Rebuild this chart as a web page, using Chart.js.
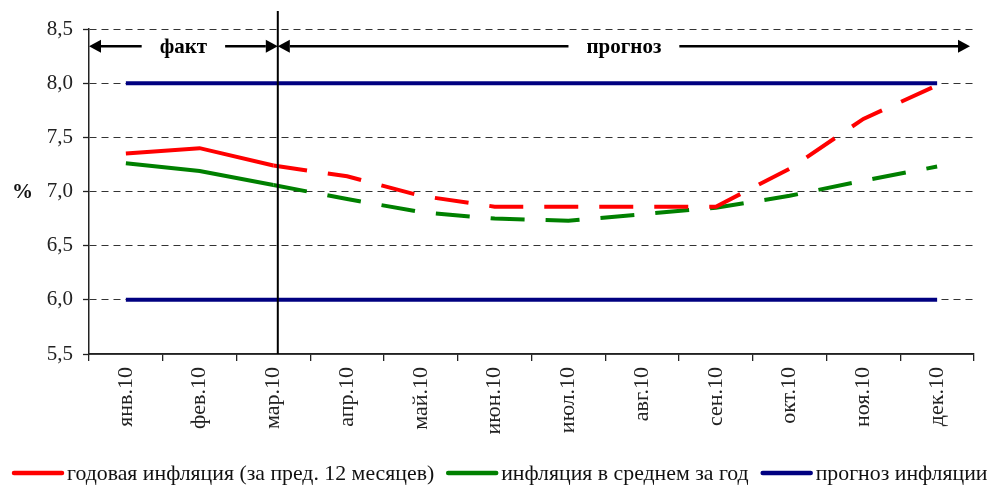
<!DOCTYPE html>
<html>
<head>
<meta charset="utf-8">
<script src="https://cdn.jsdelivr.net/npm/chart.js@4"></script>
<style>
  html, body { margin: 0; padding: 0; background: #fff; }
  canvas { display: block; }
</style>
</head>
<body>
<canvas id="chart" width="992" height="485"></canvas>
<script>
// Months of 2010
const months = ['янв.10', 'фев.10', 'мар.10', 'апр.10', 'май.10', 'июн.10',
                'июл.10', 'авг.10', 'сен.10', 'окт.10', 'ноя.10', 'дек.10'];

// Annual inflation (previous 12 months), %
const annualInflation  = [7.35, 7.40, 7.24, 7.14, 6.96, 6.86, 6.86, 6.86, 6.86, 7.21, 7.67, 7.98];
// Average inflation for the year, %
const averageInflation = [7.26, 7.19, 7.06, 6.93, 6.81, 6.75, 6.73, 6.79, 6.85, 6.96, 7.10, 7.23];
// Inflation forecast corridor, %
const forecastUpper = [8.0, 8.0, 8.0, 8.0, 8.0, 8.0, 8.0, 8.0, 8.0, 8.0, 8.0, 8.0];
const forecastLower = [6.0, 6.0, 6.0, 6.0, 6.0, 6.0, 6.0, 6.0, 6.0, 6.0, 6.0, 6.0];

const yTicks = [5.5, 6.0, 6.5, 7.0, 7.5, 8.0, 8.5];

const seriesLabels = ['годовая инфляция (за пред. 12 месяцев)', 'инфляция в среднем за год', 'прогноз инфляции'];
const spanLabels = ['факт', 'прогноз'];

const lastFactIndex = 2;     // March is the last actual month
const splitIndex = 2.06;     // divider between actual and forecast
const arrowLevel = 8.34;     // height of the fact / forecast arrows

const FONT = '"Liberation Serif", "Times New Roman", serif';
const RED = '#ff0000', GREEN = '#008000', NAVY = '#000080';
const DASH = [34, 21];

const forecastDash = ctx => (ctx.p0DataIndex >= lastFactIndex ? DASH : undefined);

function drawSpan(ctx, x0, x1, yy, label) {
  ctx.font = 'bold 21px ' + FONT;
  const w = ctx.measureText(label).width;
  const mid = (x0 + x1) / 2;
  const gap = 18, head = 12, hh = 6.5;
  ctx.strokeStyle = '#000';
  ctx.fillStyle = '#000';
  ctx.lineWidth = 2.5;
  ctx.beginPath();
  ctx.moveTo(x0 + head, yy); ctx.lineTo(mid - w / 2 - gap, yy);
  ctx.moveTo(mid + w / 2 + gap, yy); ctx.lineTo(x1 - head, yy);
  ctx.stroke();
  ctx.beginPath();
  ctx.moveTo(x0, yy); ctx.lineTo(x0 + head, yy - hh); ctx.lineTo(x0 + head, yy + hh);
  ctx.closePath(); ctx.fill();
  ctx.beginPath();
  ctx.moveTo(x1, yy); ctx.lineTo(x1 - head, yy - hh); ctx.lineTo(x1 - head, yy + hh);
  ctx.closePath(); ctx.fill();
  ctx.textAlign = 'center';
  ctx.textBaseline = 'middle';
  ctx.fillText(label, mid, yy + 1);
}

const overlay = {
  id: 'overlay',
  afterDatasetsDraw(chart) {
    const { ctx, chartArea: a, scales: { x, y } } = chart;
    const sx = x.getPixelForValue(splitIndex);
    ctx.save();
    // solid category axis line
    ctx.strokeStyle = '#222';
    ctx.lineWidth = 1.5;
    ctx.beginPath();
    ctx.moveTo(a.left, a.bottom);
    ctx.lineTo(a.right, a.bottom);
    ctx.stroke();

    // divider between fact and forecast
    ctx.strokeStyle = '#000';
    ctx.lineWidth = 2;
    ctx.beginPath();
    ctx.moveTo(sx, 11);
    ctx.lineTo(sx, a.bottom);
    ctx.stroke();

    const ay = y.getPixelForValue(arrowLevel);
    drawSpan(ctx, a.left, sx, ay, spanLabels[0]);
    drawSpan(ctx, sx, a.right - 4, ay, spanLabels[1]);

    // unit label
    ctx.font = 'bold 21px ' + FONT;
    ctx.fillStyle = '#111';
    ctx.textAlign = 'left';
    ctx.textBaseline = 'middle';
    ctx.fillText('%', 12, y.getPixelForValue(7.0) + 1);
    ctx.restore();
  },
  afterDraw(chart) {
    const { ctx } = chart;
    const items = [0, 1, 2].map(i => chart.data.datasets[i]);
    ctx.save();
    ctx.font = '21.8px ' + FONT;
    ctx.textAlign = 'left';
    ctx.textBaseline = 'middle';
    let xx = 12;
    const yy = 473;
    items.forEach(ds => {
      ctx.strokeStyle = ds.borderColor;
      ctx.lineWidth = 4.5;
      ctx.lineCap = 'round';
      ctx.beginPath();
      ctx.moveTo(xx + 2, yy);
      ctx.lineTo(xx + 50, yy);
      ctx.stroke();
      xx += 55;
      ctx.fillStyle = '#111';
      ctx.fillText(ds.label, xx, yy + 1);
      xx += ctx.measureText(ds.label).width + 12;
    });
    ctx.restore();
  }
};

new Chart(document.getElementById('chart'), {
  type: 'line',
  data: {
    labels: months,
    datasets: [
      { label: seriesLabels[0], data: annualInflation, borderColor: RED, borderWidth: 4,
        segment: { borderDash: forecastDash } },
      { label: seriesLabels[1], data: averageInflation, borderColor: GREEN, borderWidth: 4,
        segment: { borderDash: forecastDash } },
      { label: seriesLabels[2], data: forecastUpper, borderColor: NAVY, borderWidth: 4 },
      { label: seriesLabels[2], data: forecastLower, borderColor: NAVY, borderWidth: 4 }
    ]
  },
  options: {
    responsive: false,
    animation: false,
    events: [],
    layout: { padding: { top: 29, right: 18, bottom: 0, left: 0 } },
    elements: {
      point: { radius: 0 },
      line: { tension: 0, fill: false, borderCapStyle: 'butt', borderJoinStyle: 'miter' }
    },
    plugins: { legend: { display: false }, tooltip: { enabled: false }, title: { display: false } },
    scales: {
      x: {
        offset: true,
        afterFit: s => { s.height = 131; },
        grid: { offset: true, drawOnChartArea: false, drawTicks: true, tickLength: 7,
                color: '#222', lineWidth: 1.3 },
        border: { display: true, color: '#222', width: 1.5 },
        ticks: { autoSkip: false, minRotation: 90, maxRotation: 90, padding: 6,
                 color: '#222', font: { family: FONT, size: 22 } }
      },
      y: {
        min: 5.5, max: 8.5,
        afterFit: s => { s.width = 89; },
        afterBuildTicks: s => { s.ticks = yTicks.map(v => ({ value: v })); },
        grid: { color: ctx => (ctx.tick && ctx.tick.value === 5.5 ? 'rgba(0,0,0,0)' : '#333'),
                lineWidth: 1, tickLength: 6, tickColor: '#222', tickWidth: 1.3,
                tickBorderDash: [] },
        border: { display: true, color: '#222', width: 1.5, dash: [7, 5] },
        ticks: { padding: 10, color: '#222', font: { family: FONT, size: 21 },
                 callback: v => v.toFixed(1).replace('.', ',') }
      }
    }
  },
  plugins: [overlay]
});
</script>
</body>
</html>
